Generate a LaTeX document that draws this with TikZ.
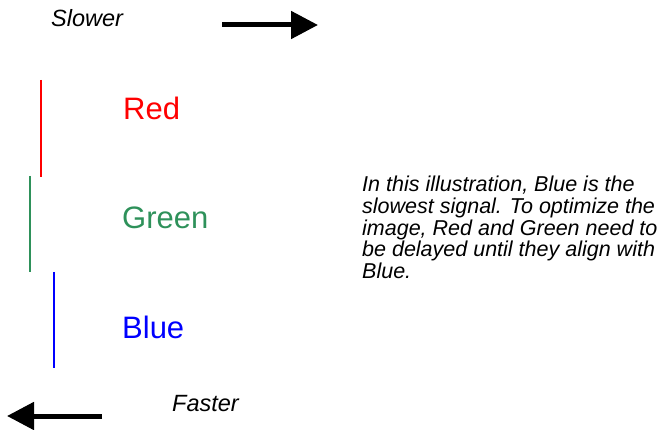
\documentclass[tikz,border=0pt]{standalone}
\usepackage{fontspec}
\setmainfont{Liberation Sans}
\usetikzlibrary{arrows.meta}
\definecolor{sgreen}{RGB}{46,145,90}
\tikzset{
  hint/.style={font=\fontsize{23.5}{27}\selectfont\itshape, inner sep=0pt},
  chan/.style={font=\fontsize{31}{34}\selectfont, inner sep=0pt},
  chanline/.style={line width=1.2pt},
  dirarrow/.style={-{Triangle[length=27pt,width=27pt]}, line width=5pt},
}
\begin{document}
\begin{tikzpicture}[x=1pt,y=-1pt]
\useasboundingbox (0,0) rectangle (659,430);
% direction hints
\node[hint, anchor=base west] (slow) at (51,27) {Slower};
\node[hint, anchor=base west] (fast) at (172,411.5) {Faster};
\coordinate (s0) at (222,25);
\coordinate (s1) at (318,25);
\coordinate (f0) at (102,416);
\coordinate (f1) at (7,416);
\draw[dirarrow] (s0) -- (s1);
\draw[dirarrow] (f0) -- (f1);
% channels
\draw[chanline, red] (41,80) -- (41,177);
\draw[chanline, sgreen] (30,176) -- (30,272);
\draw[chanline, blue] (54,272) -- (54,368);
\node[chan, red, anchor=base west] (R) at (123,120) {Red};
\node[chan, sgreen, anchor=base west] (G) at (122,229) {Green};
\node[chan, blue, anchor=base west] (B) at (122,339) {Blue};
% note
\node[anchor=north west, inner sep=0pt, align=left,
  font=\fontsize{21.5}{21.7}\selectfont\itshape] (note) at (362,176)
  {In this illustration, Blue is the\\slowest signal. To optimize the\\image, Red and Green need to\\be delayed until they align with\\Blue.};
\end{tikzpicture}
\end{document}
